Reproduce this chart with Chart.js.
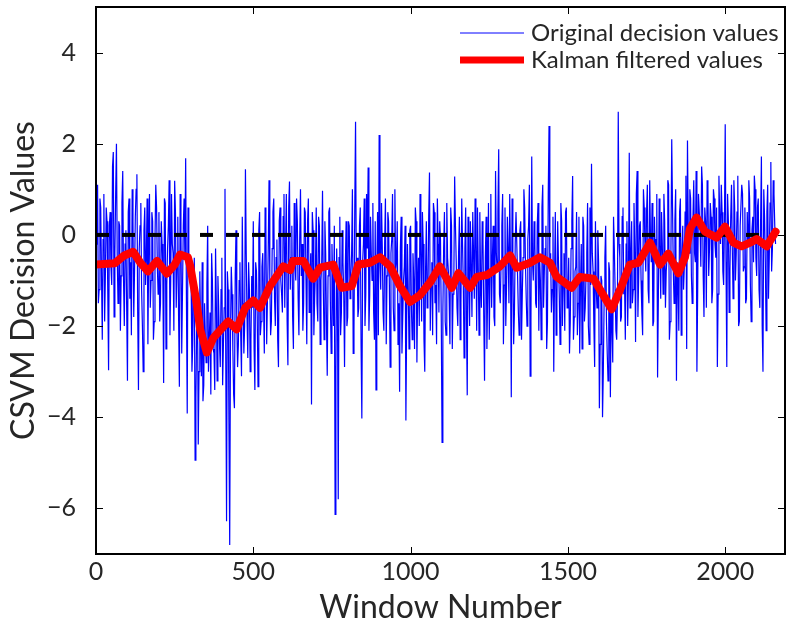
<!DOCTYPE html>
<html>
<head>
<meta charset="utf-8">
<script src="https://cdn.jsdelivr.net/npm/chart.js@4.4.0/dist/chart.umd.min.js"></script>
<style>
html, body { margin: 0; padding: 0; background: #fff; }
#wrap { width: 786px; height: 627px; }
</style>
</head>
<body>
<div id="wrap"><canvas id="kalmanChart" width="786" height="627"></canvas></div>
<script>
// raw CSVM decision values, read every 2.5 windows (two interleaved runs)
const windowStep = 5;
const originalValues = [
    -0.2, 1.1, -1.2, 0.6, -2.3, 0.9, -0.8, 0.3, -2.97, 0.5, -1.1, 1.82, -0.4, 2.0, -1.5, 0.2, -0.9, 1.4, -2.0, 0.1,
    -3.2, 0.8, -0.6, 1.0, -1.8, 0.4, 1.33, -3.4, 0.2, -1.2, -3.0, 0.6, -0.5, -2.4, 0.9, -1.0, 0.3, -1.9, 1.1, -0.7,
    0.5, -1.5, -0.2, -3.25, 0.7, -1.1, 0.2, -2.2, 0.9, -0.4, 1.19, -1.6, 0.4, -3.33, 0.1, -1.2, 0.8, 1.68, -3.92, -0.6,
    -0.6, -3.0, -1.2, -4.94, -2.0, -4.6, -0.8, -3.1, -3.65, -1.5, -2.8, 0.2, -2.3, -3.5, -1.0, -2.6, -0.3, -3.2, -1.6, -2.9,
    -0.5, -2.4, 1.01, -6.28, -1.2, -6.8, -0.7, -2.5, -3.8, 0.1, -2.9, -1.0, -2.2, 0.4, -2.6, 1.44, -1.8, -0.6, -3.0, -0.9,
    0.3, -3.4, -0.8, -3.33, 0.5, -1.9, -0.4, -2.6, 0.2, -1.4, 1.2, -2.2, -0.3, 0.8, -2.0, -0.1, -2.9, 0.6, -1.3, 0.4,
    -1.6, 0.9, -2.86, 1.17, -0.5, -1.8, 0.7, -1.0, 0.3, -2.2, 1.0, -0.2, -1.5, 0.5, -2.4, 0.8, -1.1, -3.72, 0.1, -1.4,
    0.6, -1.9, 0.2, -1.0, 0.97, -2.3, -0.4, -3.09, 0.5, -1.5, -0.2, -2.0, -6.13, -0.3, -5.8, 0.4, -1.7, -0.6, -2.9, 0.3,
    -1.8, 0.2, -0.9, 1.0, -2.1, 2.48, -0.5, -1.6, 0.6, -4.03, -0.2, -2.0, 0.9, 1.48, -1.3, -0.4, 0.7, -2.3, -3.4, 0.5,
    2.19, -1.2, -0.3, -2.1, 0.8, -0.9, 0.3, -2.9, -0.1, -1.6, 1.0, -0.6, -2.4, -3.44, 0.4, -1.8, -0.7, -4.07, -0.2, -2.5,
    0.2, -2.3, -1.0, 0.6, -2.8, -0.5, 0.9, -1.9, -0.2, -3.0, 0.3, -1.4, 1.37, -0.9, -2.2, 0.5, -1.1, 0.8, -1.7, -0.1,
    -4.55, -0.3, -1.9, 0.7, -0.8, -2.4, 0.2, -1.3, 1.28, -0.6, -2.0, 0.4, -1.5, -0.2, -2.7, 0.6, -3.52, -0.9, 0.3, -1.8,
    -0.4, 0.8, -2.1, -0.7, 0.5, -1.6, -0.1, -3.2, 0.4, -1.2, -2.3, 0.9, -0.5, -1.8, 1.4, -0.8, 1.88, -1.5, 0.2, -2.4,
    0.6, -1.1, -0.3, 0.9, -3.56, -0.4, -1.7, 0.5, -0.9, -2.2, 0.3, -1.3, 1.0, -0.6, -2.0, 0.2, -3.1, 1.72, -1.0, -0.2,
    -1.6, 0.7, -0.5, -2.3, 1.1, -0.8, 0.2, -1.9, 2.39, -0.4, -1.2, -3.0, 0.5, -1.5, -0.6, -2.4, 0.3, -1.0, -2.1, 0.6,
    -1.4, -2.6, -0.3, 1.29, -1.8, -0.7, -2.2, 0.4, -1.1, -2.5, 0.2, -1.6, -0.4, -2.0, 0.6, 1.56, -0.8, -2.9, -1.2, 0.1,
    -3.8, -0.9, -4.0, -1.5, 0.2, -2.6, -0.6, -3.56, -1.9, 0.4, -1.2, -2.3, 2.7, -0.5, -1.8, 0.6, -1.1, -0.2, -2.0, 1.8,
    -0.4, -1.5, 0.7, -2.35, 1.4, -0.9, 0.3, -1.7, 1.0, -0.3, 0.5, -1.2, 1.2, -0.6, -2.0, 0.4, -0.1, -3.13, 0.8, -1.4,
    -0.2, 0.9, -1.6, -0.5, 1.1, -1.9, 2.1, -0.8, 0.3, -3.2, -1.0, 0.5, -2.2, 0.2, -0.7, 1.3, 2.07, -0.4, 0.8, -1.5,
    1.2, -0.6, -3.0, 0.9, 0.2, 1.5, -0.9, 0.6, -1.6, 1.0, -0.3, 0.4, -1.2, 0.8, -0.5, -2.9, 1.3, -0.2, 0.5, -1.1,
    2.43, -2.9, 0.3, -0.8, 1.1, -1.4, 0.6, -0.4, 1.3, -1.9, 0.2, 0.9, -0.7, -1.5, 0.5, 1.2, -1.1, 0.1, -0.6, 1.0,
    -0.9, 0.8, -1.6, 1.72, -3.0, 0.4, -2.1, 1.1, -0.5, 1.6, -0.3, 0.9, -0.2
];
// readings half way between the ones above
const originalValuesMid = [
    0.4, -1.5, 0.8, -0.9, -0.1, -1.9, 0.6, -1.3, 0.2, -0.7, 1.5, -1.8, 0.9, -0.5, 0.3, -2.1, 0.7, -1.0, -0.2, -1.6,
    0.5, -1.4, -2.2, 0.3, -0.8, 1.0, -1.7, -0.3, 0.7, -2.0, 0.1, -1.1, 0.8, -0.4, -1.6, 0.5, -2.3, -0.1, 0.6, -1.3,
    -1.9, 0.3, -0.9, 0.8, -2.5, -0.3, 1.2, -1.0, -0.2, -2.1, 0.5, -0.7, -1.8, 0.9, -2.6, 0.2, -0.5, -1.5, 0.6, -0.9,
    -1.1, -2.4, -0.5, -3.6, -1.4, -3.0, -2.0, -0.6, -3.3, -2.2, -1.1, -3.0, -1.7, -0.4, -2.5, -3.4, -1.5, -0.9, -2.4, -1.2,
    -3.3, -1.6, -2.8, -0.8, -4.1, -2.2, -1.3, -3.5, -0.9, -1.9, -2.4, -0.6, -3.1, -1.5, -2.0, -0.4, -2.7, -1.2, -2.3, -1.6,
    -2.5, -0.6, -1.8, 0.1, -2.2, -0.7, -1.5, 0.6, -2.4, -0.3, -1.0, -1.9, 0.5, -1.4, -0.5, -2.3, 0.3, -1.0, -1.7, 0.9,
    -0.3, -1.9, 0.6, -1.2, 0.2, -2.5, -0.6, 0.8, -1.4, -0.1, -0.9, -2.1, 0.6, -1.0, 0.3, -1.7, -0.4, 0.5, -2.2, -0.8,
    -1.5, 0.4, -2.4, -0.6, -1.2, 0.3, -1.9, -0.9, 0.6, -2.6, -1.1, 0.2, -3.0, -1.4, -0.5, -2.2, 0.1, -1.3, -0.7, -2.0,
    0.3, -1.4, -0.4, -2.6, 0.6, -0.9, -1.8, 0.2, -2.4, -0.6, 0.8, -1.3, -0.3, -2.1, 0.4, -1.0, -1.7, 0.3, -0.8, -2.2,
    -0.6, 0.7, -1.7, -0.2, -2.4, 0.5, -1.1, -0.4, 0.9, -2.1, -0.8, 0.3, -1.5, -0.3, -2.6, -1.0, 0.2, -1.9, -1.2, 0.1,
    -1.6, -0.4, -2.5, 0.3, -1.2, -2.0, -0.3, 0.5, -2.3, -0.8, -1.6, 0.4, -2.1, -0.6, 0.7, -1.5, -2.4, -0.2, 0.3, -1.9,
    -1.7, 0.5, -2.2, -0.5, -1.4, 0.6, -2.5, -0.9, 0.2, -1.6, -0.4, -2.3, 0.8, -1.1, -0.3, -1.9, 0.4, -2.0, -0.7, 0.5,
    -1.4, -0.2, 0.6, -2.2, -1.0, 0.3, -1.8, -0.5, -2.5, 0.7, -0.9, -1.6, 0.2, -2.0, -0.4, 0.5, -1.3, -0.6, 0.9, -1.1,
    -2.0, 0.4, -1.5, -0.6, 0.8, -2.4, -0.2, 0.5, -1.7, 0.1, -2.3, -0.5, 0.6, -1.4, -0.1, 1.1, -1.9, -0.6, 0.3, -1.5,
    0.2, -2.1, -1.0, 0.6, -1.6, -0.3, -2.5, 0.9, -0.8, -1.7, 0.4, -0.9, -2.2, 0.3, -1.3, 0.7, -2.0, -0.4, 0.5, -1.6,
    -0.5, -1.9, 0.3, -2.3, -0.8, 0.5, -1.5, -2.6, -0.2, 0.4, -1.9, -0.9, 0.7, -2.4, -1.1, -0.4, -2.0, 0.3, -1.6, -0.6,
    -2.4, -1.0, -3.0, -0.5, -1.9, -3.2, -0.8, -1.6, -2.8, -0.3, -2.1, -1.4, -0.2, -1.9, 0.4, -1.3, -2.3, 0.3, -0.9, -1.6,
    0.3, -1.2, -0.3, 0.9, -1.8, 0.2, -1.0, -2.2, 0.6, -0.8, 1.1, -1.5, -0.1, 0.7, -1.9, -0.5, 0.9, -1.4, -0.2, 0.5,
    -1.3, 0.3, -0.8, 1.2, -2.3, -0.3, 0.6, -1.5, 1.0, -0.6, -2.1, 0.8, -0.4, -1.2, 0.5, -2.5, 0.2, 1.0, -0.9, 0.4,
    -0.4, 1.4, -1.2, 0.5, -0.7, 1.1, -1.8, 0.3, 1.2, -0.9, 0.7, -1.5, 1.0, -0.2, 0.6, -1.3, 0.4, 1.1, -0.8, 0.2,
    -0.6, 0.9, -1.7, 0.4, -0.3, 1.2, -1.0, 0.5, -2.0, 0.2, 1.1, -0.8, 0.6, -1.4, -0.1, 0.8, -1.9, 0.4, 1.3, -0.5,
    0.6, -1.2, 0.3, -2.0, 1.0, -0.6, 0.5, -1.4, 0.7, -0.8, 1.2, 0.2
];

// Kalman filtered curve, read at its turning points
const kalmanX = [0, 60, 90, 118, 140, 165, 194, 225, 250, 267, 292, 300, 320, 331, 352, 373, 400, 420, 447, 474,
    500, 521, 553, 595, 617, 626, 659, 690, 712, 754, 781, 813, 834, 871, 903, 935, 966, 998, 1030, 1062,
    1093, 1131, 1152, 1189, 1210, 1242, 1284, 1316, 1337, 1380, 1411, 1443, 1464, 1512, 1538, 1581, 1602, 1639, 1666, 1697,
    1724, 1761, 1793, 1819, 1851, 1872, 1888, 1909, 1936, 1973, 1999, 2026, 2052, 2079, 2100, 2132, 2160];
const kalmanY = [-0.65, -0.62, -0.45, -0.37, -0.6, -0.8, -0.57, -0.85, -0.65, -0.43, -0.49, -0.7, -1.5, -2.07, -2.58, -2.26, -2.05, -1.9, -2.07, -1.6,
    -1.44, -1.6, -1.12, -0.69, -0.77, -0.57, -0.57, -0.96, -0.72, -0.65, -1.16, -1.12, -0.65, -0.61, -0.49, -0.69, -1.12, -1.47, -1.32, -1.04,
    -0.69, -1.16, -0.84, -1.16, -0.92, -0.88, -0.69, -0.45, -0.72, -0.61, -0.49, -0.61, -0.92, -1.16, -0.92, -0.96, -1.2, -1.63, -1.2, -0.65,
    -0.61, -0.17, -0.65, -0.41, -0.84, -0.49, 0.14, 0.38, 0.07, -0.06, 0.18, -0.17, -0.25, -0.17, -0.09, -0.25, 0.07];

const thresholdX = [0, 2150];
const thresholdY = [0, 0];

const xTicks = [0, 500, 1000, 1500, 2000];
const yTicks = [-6, -4, -2, 0, 2, 4];

const fontFamily = 'Lato, "Noto Sans", sans-serif';
const textColor = '#262626';

// matlab style box with inward ticks on all four sides
const boxTicks = {
    id: 'boxTicks',
    afterDatasetsDraw(chart) {
        const ctx = chart.ctx;
        const area = chart.chartArea;
        const xs = chart.scales.x;
        const ys = chart.scales.y;
        const len = 7;
        ctx.save();
        ctx.strokeStyle = '#000';
        ctx.lineWidth = 1;
        ctx.beginPath();
        xTicks.forEach(v => {
            const px = Math.round(xs.getPixelForValue(v)) + 0.5;
            ctx.moveTo(px, area.bottom); ctx.lineTo(px, area.bottom - len);
            ctx.moveTo(px, area.top); ctx.lineTo(px, area.top + len);
        });
        yTicks.forEach(v => {
            const py = Math.round(ys.getPixelForValue(v)) + 0.5;
            ctx.moveTo(area.left, py); ctx.lineTo(area.left + len, py);
            ctx.moveTo(area.right, py); ctx.lineTo(area.right - len, py);
        });
        ctx.stroke();
        ctx.lineWidth = 2;
        ctx.strokeRect(area.left, area.top, area.right - area.left, area.bottom - area.top);
        ctx.restore();
    }
};

// legend drawn inside the top right corner
const insideLegend = {
    id: 'insideLegend',
    afterDraw(chart) {
        const ctx = chart.ctx;
        const area = chart.chartArea;
        const items = chart.data.datasets.filter(d => d.inLegend);
        const x0 = area.right - 325;
        ctx.save();
        ctx.font = '24px ' + fontFamily;
        ctx.textBaseline = 'middle';
        items.forEach((d, i) => {
            const y = area.top + 26 + i * 27;
            ctx.strokeStyle = d.borderColor;
            ctx.lineWidth = d.legendWidth;
            ctx.beginPath();
            ctx.moveTo(x0, y);
            ctx.lineTo(x0 + 64, y);
            ctx.stroke();
            ctx.fillStyle = textColor;
            ctx.fillText(d.label, x0 + 71, y);
        });
        ctx.restore();
    }
};

function toPoints(xs, ys) {
    return xs.map((x, i) => ({ x: x, y: ys[i] }));
}

const originalPoints = [];
originalValues.forEach((v, i) => {
    originalPoints.push({ x: i * windowStep, y: v });
    if (i < originalValuesMid.length) {
        originalPoints.push({ x: i * windowStep + windowStep / 2, y: originalValuesMid[i] });
    }
});

const ctx = document.getElementById('kalmanChart').getContext('2d');
new Chart(ctx, {
    type: 'line',
    data: {
        datasets: [{
            label: 'Original decision values',
            inLegend: true,
            legendWidth: 1,
            data: originalPoints,
            borderColor: '#0000ff',
            borderWidth: 1.2,
            pointRadius: 0,
            tension: 0,
            order: 3
        }, {
            label: 'Kalman filtered values',
            inLegend: true,
            legendWidth: 7,
            data: toPoints(kalmanX, kalmanY),
            borderColor: '#ff0000',
            borderWidth: 8,
            borderJoinStyle: 'round',
            borderCapStyle: 'round',
            pointRadius: 0,
            tension: 0,
            order: 1
        }, {
            label: 'threshold',
            data: toPoints(thresholdX, thresholdY),
            borderColor: '#000000',
            borderWidth: 4,
            borderDash: [13, 13],
            pointRadius: 0,
            order: 2
        }]
    },
    options: {
        responsive: false,
        animation: false,
        layout: { padding: { top: 7, right: 1, left: 0, bottom: 0 } },
        plugins: {
            legend: { display: false },
            tooltip: { enabled: false }
        },
        scales: {
            x: {
                type: 'linear',
                min: 0,
                max: 2190,
                afterBuildTicks: s => { s.ticks = xTicks.map(v => ({ value: v })); },
                afterFit: s => { s.height = 73; s.paddingLeft = 0; s.paddingRight = 0; },
                grid: { display: false },
                border: { display: false },
                ticks: {
                    color: textColor,
                    padding: -5,
                    maxRotation: 0,
                    font: { family: fontFamily, size: 25 },
                    callback: v => String(v)
                },
                title: {
                    display: true,
                    text: 'Window Number',
                    color: textColor,
                    padding: { top: 0, bottom: 0 },
                    font: { family: fontFamily, size: 32 }
                }
            },
            y: {
                min: -7,
                max: 5,
                afterBuildTicks: s => { s.ticks = yTicks.map(v => ({ value: v })); },
                afterFit: s => { s.width = 96; s.paddingTop = 0; s.paddingBottom = 0; },
                grid: { display: false },
                border: { display: false },
                ticks: {
                    color: textColor,
                    padding: 12,
                    font: { family: fontFamily, size: 25 },
                    callback: v => String(v).replace('-', '\u2212')
                },
                title: {
                    display: true,
                    text: 'CSVM Decision Values',
                    color: textColor,
                    padding: { top: 4, bottom: 0 },
                    font: { family: fontFamily, size: 32 }
                }
            }
        }
    },
    plugins: [boxTicks, insideLegend]
});
</script>
</body>
</html>
